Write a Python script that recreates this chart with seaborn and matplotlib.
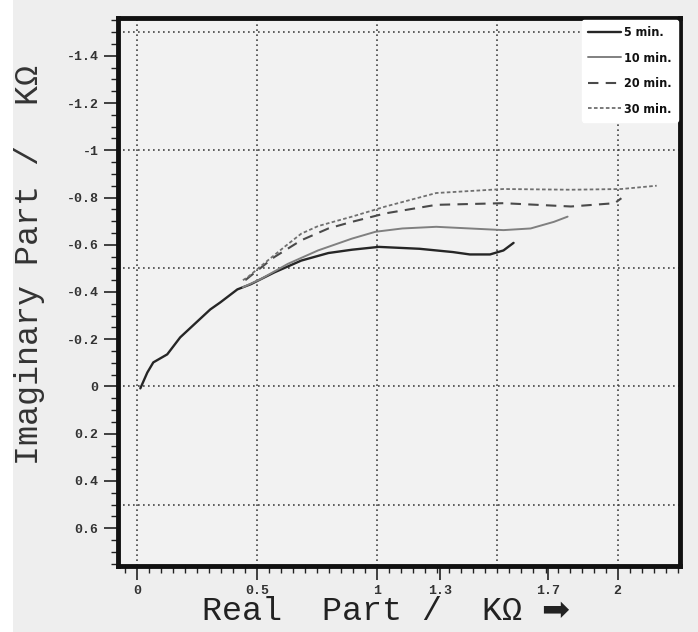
import numpy as np
import pandas as pd
import matplotlib
matplotlib.use("Agg")
import matplotlib.pyplot as plt
import seaborn as sns
from matplotlib.ticker import MultipleLocator
from matplotlib.patches import Rectangle

# ---- data ----
x_5 = [0.013, 0.042, 0.067, 0.125, 0.179, 0.25, 0.304, 0.346, 0.417, 0.473, 0.571, 0.683,
       0.796, 0.894, 1.006, 1.175, 1.315, 1.385, 1.469, 1.525, 1.567]
y_5 = [0.008, -0.059, -0.102, -0.136, -0.208, -0.275, -0.326, -0.356, -0.411, -0.433, -0.483,
       -0.533, -0.565, -0.579, -0.591, -0.583, -0.569, -0.559, -0.559, -0.576, -0.608]

x_10 = [0.44, 0.515, 0.627, 0.753, 0.894, 0.992, 1.104, 1.245, 1.525, 1.638, 1.735, 1.792]
y_10 = [-0.42, -0.455, -0.519, -0.576, -0.626, -0.655, -0.669, -0.676, -0.662, -0.669, -0.697, -0.719]

x_20 = [0.45, 0.473, 0.571, 0.683, 0.796, 0.894, 1.034, 1.245, 1.525, 1.806, 1.988, 2.016]
y_20 = [-0.45, -0.469, -0.548, -0.619, -0.669, -0.697, -0.733, -0.769, -0.776, -0.762, -0.776, -0.797]

x_30 = [0.44, 0.459, 0.543, 0.613, 0.683, 0.753, 0.894, 1.034, 1.245, 1.525, 1.806, 2.016, 2.163]
y_30 = [-0.45, -0.462, -0.533, -0.591, -0.647, -0.679, -0.719, -0.762, -0.819, -0.836, -0.833, -0.836, -0.85]

series = ["5 min.", "10 min.", "20 min.", "30 min."]
xs = [x_5, x_10, x_20, x_30]
ys = [y_5, y_10, y_20, y_30]

x_ticks = [0, 0.5, 1, 1.26, 1.71, 2]
x_ticklabels = ["0", "0.5", "1", "1.3", "1.7", "2"]
y_ticks = [-1.4, -1.2, -1.0, -0.8, -0.6, -0.4, -0.2, 0.0, 0.2, 0.4, 0.6]
y_ticklabels = ["-1.4", "-1.2", "-1", "-0.8", "-0.6", "-0.4", "-0.2", "0", "0.2", "0.4", "0.6"]

# ---- styling ----
sns.set_theme(style="white")
plt.rcParams['font.family'] = ['Liberation Mono', 'DejaVu Sans']

fig = plt.figure(figsize=(6.98, 6.32), dpi=100, facecolor="#eeeeee")
fig.add_artist(Rectangle((0, 0), 13/698, 1, transform=fig.transFigure,
                         facecolor="white", edgecolor="none"))
ax = fig.add_axes([118/698, 1-566/632, (680-118)/698, (566-18)/632])
ax.set_facecolor("#f2f2f2")

colors = ["#262626", "#808080", "#4a4a4a", "#707070"]
styles = ["-", "-", (0, (5, 3.5)), (0, (2, 1.3))]
widths = [1.7, 1.4, 1.5, 1.3]

for name, xv, yv, c, ls, lw in zip(series, xs, ys, colors, styles, widths):
    df = pd.DataFrame({"x": xv, "y": yv})
    sns.lineplot(data=df, x="x", y="y", sort=False, estimator=None, ax=ax,
                 color=c, linestyle=ls, linewidth=lw, label=name)

ax.set_xlim(-0.08, 2.26)
ax.set_ylim(0.76, -1.56)

# grid
for gx in [0, 0.5, 1, 1.5, 2]:
    ax.axvline(gx, color="#444444", linestyle=(0, (1, 2)), linewidth=1.2, zorder=0)
for gy in [-1.5, -1.0, -0.5, 0.0, 0.5]:
    ax.axhline(gy, color="#444444", linestyle=(0, (1, 2)), linewidth=1.2, zorder=0)

ax.set_xticks(x_ticks)
ax.set_xticklabels(x_ticklabels)
ax.set_yticks(y_ticks)
ax.set_yticklabels(y_ticklabels)
ax.xaxis.set_minor_locator(MultipleLocator(0.05))
ax.yaxis.set_minor_locator(MultipleLocator(0.05))
ax.tick_params(axis="both", which="major", direction="out", length=10, width=1.2,
               color="#222222", labelsize=9.5, pad=4, bottom=True, left=True)
ax.tick_params(axis="both", which="minor", direction="out", length=5, width=1.0,
               color="#222222", bottom=True, left=True)
for lab in ax.get_xticklabels() + ax.get_yticklabels():
    lab.set_fontweight("bold")
    lab.set_color("#333333")

for s in ax.spines.values():
    s.set_visible(True)
    s.set_color("#111111")
    s.set_linewidth(3.5)

ax.set_xlabel("")
ax.set_ylabel("")
fig.text(202/698, 1-612/632, "Real  Part /  KΩ ➡", fontsize=24, color="#222222",
         ha="left", va="center")
fig.text(30/698, 1-265/632, "Imaginary Part /  KΩ", fontsize=24, color="#333333",
         ha="center", va="center", rotation=90)

leg = ax.legend(loc="upper right", bbox_to_anchor=(1.0, 1.0), frameon=True, fontsize=9,
                handlelength=2.6, borderaxespad=0.15, labelspacing=1.0,
                handletextpad=0.3, borderpad=0.5)
leg.get_frame().set_facecolor("white")
leg.get_frame().set_edgecolor("white")
leg.get_frame().set_alpha(1.0)
for t in leg.get_texts():
    t.set_fontweight("bold")
    t.set_family(["DejaVu Sans"])
    t.set_fontstretch("condensed")
    t.set_color("#111111")

fig.savefig("out.png", dpi=100, facecolor=fig.get_facecolor())
